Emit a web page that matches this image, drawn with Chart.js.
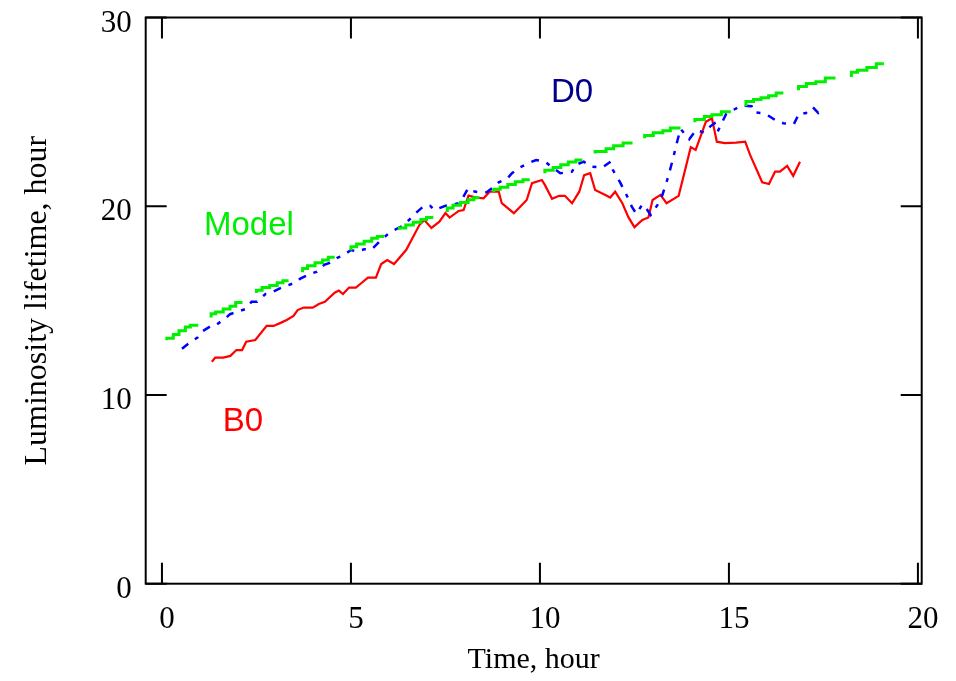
<!DOCTYPE html>
<html>
<head>
<meta charset="utf-8">
<title>Luminosity lifetime</title>
<script src="https://cdn.jsdelivr.net/npm/chart.js@4.4.1/dist/chart.umd.min.js"></script>
<style>
  html, body { margin: 0; padding: 0; background: #fff; }
  #wrap { width: 956px; height: 681px; }
</style>
</head>
<body>
<div id="wrap"><canvas id="lifetime-chart"></canvas></div>
<script>
// --- 1. data ---

const xTicks = [0, 5, 10, 15, 20];
const yTicks = [0, 10, 20, 30];

// Model: stepped line, null = break between pieces
const modelTime = [
    0.13, 0.30, 0.45, 0.62, 0.75, 0.96, null,
    1.30, 1.42, 1.62, 1.80, 1.95, 2.13, null,
    2.50, 2.65, 2.85, 3.05, 3.20, 3.35, null,
    3.72, 3.85, 4.05, 4.25, 4.40, 4.57, null,
    5.00, 5.15, 5.35, 5.55, 5.70, 5.88, null,
    6.28, 6.45, 6.65, 6.85, 7.00, 7.18, null,
    7.55, 7.70, 7.90, 8.10, 8.25, 8.40, null,
    8.78, 8.95, 9.15, 9.35, 9.55, 9.73, null,
    10.13, 10.35, 10.55, 10.75, 10.95, 11.12, null,
    11.46, 11.75, 11.95, 12.20, 12.45, null,
    12.77, 13.00, 13.25, 13.45, 13.72, null,
    14.10, 14.35, 14.55, 14.80, 15.05, null,
    15.45, 15.65, 15.85, 16.05, 16.25, 16.44, null,
    16.84, 17.05, 17.30, 17.55, 17.82, null,
    18.24, 18.40, 18.65, 18.90, 19.10
];
const modelLifetime = [
    12.90, 13.00, 13.20, 13.40, 13.60, 13.70, null,
    14.10, 14.30, 14.40, 14.55, 14.70, 14.90, null,
    15.40, 15.55, 15.70, 15.80, 15.95, 16.05, null,
    16.50, 16.70, 16.85, 17.00, 17.15, 17.30, null,
    17.65, 17.85, 18.00, 18.15, 18.30, 18.40, null,
    18.75, 18.85, 19.00, 19.15, 19.30, 19.40, null,
    19.70, 19.90, 20.05, 20.20, 20.35, 20.45, null,
    20.75, 20.90, 21.00, 21.15, 21.30, 21.40, null,
    21.75, 21.90, 22.05, 22.20, 22.35, 22.45, null,
    22.80, 22.90, 23.05, 23.20, 23.35, null,
    23.60, 23.75, 23.90, 24.00, 24.15, null,
    24.45, 24.60, 24.75, 24.85, 25.00, null,
    25.30, 25.55, 25.65, 25.75, 25.85, 26.00, null,
    26.15, 26.35, 26.50, 26.60, 26.80, null,
    26.85, 27.10, 27.20, 27.35, 27.55
];

// B0 (red, solid)
const b0Time = [
    1.32, 1.41, 1.62, 1.81, 1.97, 2.12, 2.23, 2.47, 2.77, 2.95,
    3.14, 3.30, 3.48, 3.59, 3.75, 3.99, 4.15, 4.31, 4.57, 4.68,
    4.79, 4.95, 5.13, 5.27, 5.45, 5.66, 5.80, 5.96, 6.14, 6.46,
    6.81, 6.94, 7.13, 7.34, 7.50, 7.61, 7.85, 7.98, 8.11, 8.32,
    8.51, 8.67, 8.91, 8.99, 9.31, 9.65, 9.79, 10.05, 10.13, 10.32,
    10.51, 10.66, 10.85, 11.04, 11.17, 11.33, 11.46, 11.73, 11.86, 11.99,
    12.18, 12.34, 12.50, 12.71, 12.87, 12.98, 13.19, 13.35, 13.67, 13.99,
    14.12, 14.39, 14.55, 14.68, 14.89, 15.19, 15.43, 15.56, 15.88, 16.06,
    16.22, 16.35, 16.54, 16.70, 16.88
];
const b0Lifetime = [
    11.76, 11.98, 11.98, 12.07, 12.38, 12.38, 12.82, 12.91, 13.66, 13.66,
    13.82, 13.97, 14.19, 14.50, 14.63, 14.63, 14.82, 14.94, 15.42, 15.53,
    15.35, 15.69, 15.69, 15.92, 16.22, 16.22, 16.94, 17.15, 16.94, 17.68,
    19.00, 19.27, 18.85, 19.18, 19.64, 19.40, 19.75, 19.80, 20.56, 20.46,
    20.42, 20.77, 20.77, 20.16, 19.63, 20.33, 21.22, 21.39, 21.13, 20.39,
    20.55, 20.55, 20.16, 20.77, 21.65, 21.75, 20.86, 20.60, 20.46, 20.77,
    20.16, 19.42, 18.89, 19.27, 19.40, 20.33, 20.60, 20.16, 20.55, 23.13,
    22.98, 24.47, 24.66, 23.42, 23.34, 23.37, 23.42, 22.72, 21.27, 21.18,
    21.83, 21.83, 22.14, 21.61, 22.36
];

// D0 (blue, dashed)
const d0Time = [
    0.53, 0.76, 0.94, 1.05, 1.30, 1.40, 1.70, 1.80, 2.00, 2.22,
    2.37, 2.52, 2.74, 2.85, 3.12, 3.30, 3.55, 3.65, 3.91, 4.10,
    4.29, 4.42, 4.65, 4.80, 5.00, 5.15, 5.35, 5.55, 5.75, 5.98,
    6.15, 6.37, 6.49, 6.75, 6.95, 7.10, 7.20, 7.50, 7.60, 7.85,
    7.93, 8.10, 8.20, 8.41, 8.59, 8.80, 8.90, 9.14, 9.26, 9.48,
    9.79, 9.90, 10.14, 10.30, 10.54, 10.85, 10.94, 11.16, 11.34, 11.65,
    11.87, 11.93, 12.11, 12.27, 12.43, 12.55, 12.71, 12.78, 12.93, 13.11,
    13.24, 13.40, 13.53, 13.64, 13.72, 13.95, 14.13, 14.35, 14.50, 14.62,
    14.70, 14.93, 15.33, 15.60, 15.66, 15.89, 16.06, 16.26, 16.44, 16.72,
    16.86, 17.03, 17.22, 17.36, 17.50
];
const d0Lifetime = [
    12.45, 12.82, 13.04, 13.35, 13.66, 13.66, 14.10, 14.28, 14.41, 14.56,
    14.94, 14.94, 15.35, 15.38, 15.65, 15.79, 15.97, 16.15, 16.41, 16.53,
    16.89, 16.98, 17.28, 17.40, 17.68, 17.60, 17.72, 17.72, 18.12, 18.53,
    18.74, 18.96, 19.18, 19.70, 20.05, 20.02, 19.80, 20.02, 20.02, 20.16,
    20.33, 20.95, 20.80, 20.74, 20.74, 21.05, 21.25, 21.48, 21.75, 22.07,
    22.36, 22.45, 22.36, 22.10, 21.75, 21.83, 22.19, 22.36, 22.10, 22.05,
    22.36, 21.92, 21.30, 20.69, 19.98, 19.60, 20.10, 19.98, 19.54, 20.07,
    20.60, 21.60, 22.60, 23.50, 24.10, 23.55, 24.04, 23.90, 24.22, 24.40,
    23.95, 24.90, 25.33, 25.30, 24.98, 24.93, 24.78, 24.52, 24.40, 24.36,
    24.93, 24.93, 25.25, 24.95, 25.30
];

// --- 2. helpers ---

const toPoints = (xs, ys) => xs.map((t, i) => ({ x: t, y: ys[i] }));

const serif = "'Liberation Serif', 'Times New Roman', serif";
const sans = "'Liberation Sans', Arial, sans-serif";

// frame + inward tick marks on all four sides
const frameTicks = {
    id: "frameTicks",
    afterDatasetsDraw(chart) {
        const { ctx, chartArea: a, scales: { x, y } } = chart;
        const len = 21;
        ctx.save();
        ctx.strokeStyle = "#000";
        ctx.lineWidth = 2;
        ctx.strokeRect(a.left, a.top, a.right - a.left, a.bottom - a.top);
        ctx.beginPath();
        xTicks.forEach(v => {
            const px = x.getPixelForValue(v);
            ctx.moveTo(px, a.bottom); ctx.lineTo(px, a.bottom - len);
            ctx.moveTo(px, a.top); ctx.lineTo(px, a.top + len);
        });
        yTicks.forEach(v => {
            const py = y.getPixelForValue(v);
            ctx.moveTo(a.left, py); ctx.lineTo(a.left + len, py);
            ctx.moveTo(a.right, py); ctx.lineTo(a.right - len, py);
        });
        ctx.stroke();
        ctx.restore();
    }
};

// series names written inside the plot
const seriesLabels = {
    id: "seriesLabels",
    afterDatasetsDraw(chart) {
        const { ctx, scales: { x, y } } = chart;
        const items = [
            ["D0", 10.85, 26.0, "#00008b"],
            ["Model", 2.30, 18.96, "#00ee00"],
            ["B0", 2.14, 8.57, "#ff0000"]
        ];
        ctx.save();
        ctx.font = "33px " + sans;
        ctx.textAlign = "center";
        ctx.textBaseline = "middle";
        items.forEach(([txt, tx, ty, col]) => {
            ctx.fillStyle = col;
            ctx.fillText(txt, x.getPixelForValue(tx), y.getPixelForValue(ty));
        });
        ctx.restore();
    }
};

// --- 3. chart ---

new Chart(document.getElementById("lifetime-chart"), {
    type: "line",
    data: {
        datasets: [
            {
                label: "Model",
                data: toPoints(modelTime, modelLifetime),
                borderColor: "#00f000",
                borderWidth: 3,
                stepped: "after",
                spanGaps: false,
                pointRadius: 0
            },
            {
                label: "D0",
                data: toPoints(d0Time, d0Lifetime),
                borderColor: "#0000ff",
                borderWidth: 2.5,
                borderDash: [8, 8, 4, 8],
                tension: 0,
                pointRadius: 0
            },
            {
                label: "B0",
                data: toPoints(b0Time, b0Lifetime),
                borderColor: "#ff0000",
                borderWidth: 2.2,
                tension: 0,
                pointRadius: 0
            }
        ]
    },
    options: {
        responsive: true,
        maintainAspectRatio: false,
        animation: false,
        layout: { padding: { top: 17.5, right: 34.3, left: 0, bottom: 0 } },
        plugins: {
            legend: { display: false },
            tooltip: { enabled: false }
        },
        scales: {
            x: {
                type: "linear",
                min: -0.43,
                max: 20.1,
                afterBuildTicks: s => { s.ticks = xTicks.map(v => ({ value: v })); },
                afterFit: s => { s.height = 97.3; },
                grid: { display: false, drawTicks: false },
                border: { display: false },
                ticks: {
                    color: "#000",
                    font: { family: serif, size: 31, lineHeight: 1 },
                    padding: 21,
                    labelOffset: 5,
                    maxRotation: 0
                },
                title: {
                    display: true,
                    text: "Time, hour",
                    color: "#000",
                    font: { family: serif, size: 30 },
                    padding: { top: 0, bottom: 3 }
                }
            },
            y: {
                min: 0,
                max: 30,
                afterBuildTicks: s => { s.ticks = yTicks.map(v => ({ value: v })); },
                afterFit: s => { s.width = 145.7; },
                grid: { display: false, drawTicks: false },
                border: { display: false },
                ticks: {
                    color: "#000",
                    // small lineHeight keeps the top label from pushing the plot down
                    font: { family: serif, size: 31, lineHeight: 0.2 },
                    padding: 14,
                    labelOffset: 6
                },
                title: {
                    display: true,
                    text: "Luminosity lifetime, hour",
                    color: "#000",
                    font: { family: serif, size: 32 },
                    padding: { top: 18, bottom: 0 }
                }
            }
        }
    },
    plugins: [frameTicks, seriesLabels]
});
</script>
</body>
</html>
